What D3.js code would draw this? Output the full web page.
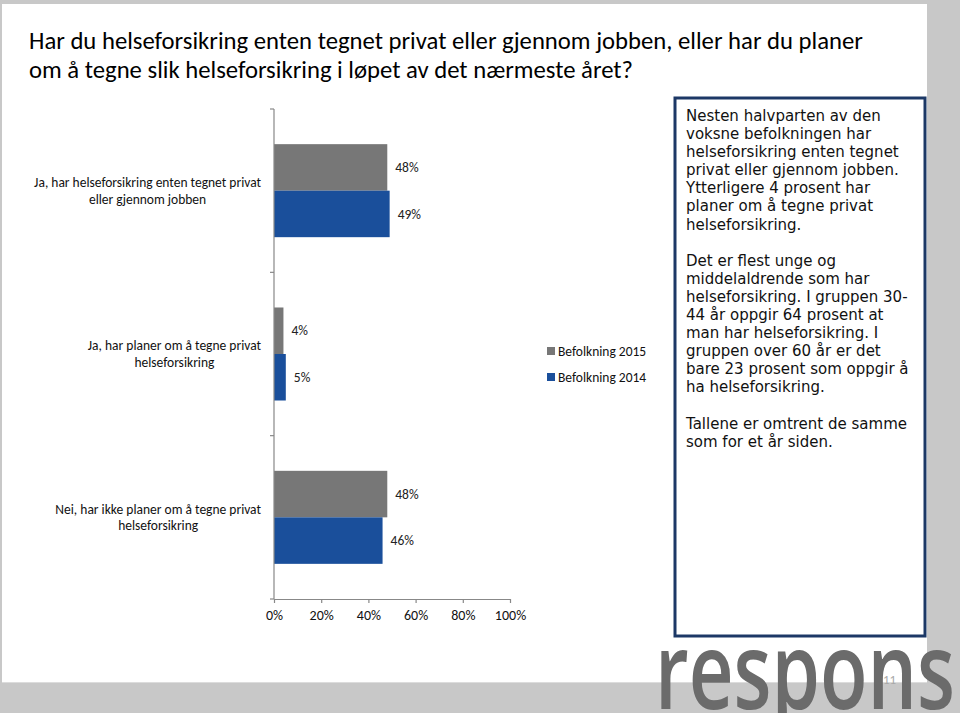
<!DOCTYPE html>
<html><head><meta charset="utf-8">
<script src="https://cdn.jsdelivr.net/npm/d3@7"></script>
<style>
html,body{margin:0;padding:0;background:#c8c8c8;}
svg{display:block;}
</style></head>
<body>
<svg id="c" width="960" height="713"></svg>
<script>
// ---- data ----
const titleLines = ["Har du helseforsikring enten tegnet privat eller gjennom jobben, eller har du planer",
                    "om å tegne slik helseforsikring i løpet av det nærmeste året?"];
const categories = [
  ["Ja, har helseforsikring enten tegnet privat", "eller gjennom jobben"],
  ["Ja, har planer om å tegne privat", "helseforsikring"],
  ["Nei, har ikke planer om å tegne privat", "helseforsikring"]
];
const seriesNames = ["Befolkning 2015", "Befolkning 2014"];
const values2015 = [48, 4, 48];
const values2014 = [49, 5, 46];
const xTicks = [0, 20, 40, 60, 80, 100];
const seriesColors = ["#777777", "#1a4f9b"];
const boxLines = [
  "Nesten halvparten av den","voksne befolkningen har","helseforsikring enten tegnet",
  "privat eller gjennom jobben.","Ytterligere 4 prosent har","planer om å tegne privat",
  "helseforsikring.","",
  "Det er flest unge og","middelaldrende som har","helseforsikring. I gruppen 30-",
  "44 år oppgir 64 prosent at","man har helseforsikring. I","gruppen over 60 år er det",
  "bare 23 prosent som oppgir å","ha helseforsikring.","",
  "Tallene er omtrent de samme","som for et år siden."
];
const seriesValues = [values2015, values2014];

const svg = d3.select("#c");
const CAL = "Carlito, Calibri, Lato, sans-serif";

// background panels
svg.append("rect").attr("x",0).attr("y",0).attr("width",960).attr("height",713).attr("fill","#c8c8c8");
svg.append("rect").attr("x",2).attr("y",4).attr("width",925).attr("height",678).attr("fill","#ffffff");
svg.append("line").attr("x1",2).attr("x2",927).attr("y1",682.5).attr("y2",682.5).attr("stroke","#dcdcdc");

// title
svg.append("g").selectAll("text").data(titleLines).join("text")
  .attr("x",29).attr("y",(d,i)=>49+i*29)
  .attr("font-family",CAL).attr("font-size",24.7).attr("fill","#000")
  .text(d=>d);

// scales
const x = d3.scaleLinear().domain([0,100]).range([274,510]);
const y0 = d3.scaleBand().domain(d3.range(categories.length)).range([109,599]);
const y1 = d3.scaleBand().domain(d3.range(seriesNames.length)).range([0,y0.bandwidth()]).paddingOuter(0.756);

const axisColor = "#888888";
// bars
const groups = svg.append("g").selectAll("g").data(categories).join("g")
  .attr("transform",(d,i)=>`translate(0,${y0(i)})`);
groups.each(function(c,ci){
  const g = d3.select(this);
  const data = seriesValues.map((vals,si)=>({si, v: vals[ci]}));
  g.selectAll("rect").data(data).join("rect")
    .attr("x",x(0)).attr("y",d=>y1(d.si))
    .attr("width",d=>x(d.v)-x(0)).attr("height",y1.bandwidth())
    .attr("fill",d=>seriesColors[d.si]);
  g.selectAll("text.val").data(data).join("text").attr("class","val")
    .attr("x",d=>x(d.v)+8).attr("y",d=>y1(d.si)+y1.bandwidth()/2)
    .attr("dy","0.35em").attr("font-family",CAL).attr("font-size",13.5).attr("fill","#222")
    .text(d=>d.v+"%");
});

// category labels (centered block, right-aligned)
categories.forEach((lines,ci)=>{
  const cy = y0(ci)+y0.bandwidth()/2;
  const g = svg.append("g");
  const t = g.selectAll("text").data(lines).join("text")
    .attr("y",(d,i)=>cy+(i-(lines.length-1)/2)*16.5).attr("dy","0.35em")
    .attr("font-family",CAL).attr("font-size",13.5).attr("fill","#111")
    .text(d=>d);
  let maxW = 0;
  t.each(function(){maxW=Math.max(maxW,this.getComputedTextLength());});
  const right = x(0)-13;
  t.attr("x",right-maxW/2).attr("text-anchor","middle");
});

// y axis
svg.append("line").attr("x1",x(0)).attr("x2",x(0)).attr("y1",y0.range()[0]).attr("y2",y0.range()[1])
  .attr("stroke",axisColor).attr("stroke-width",1.2);
const yTickPos = categories.map((c,i)=>y0(i)).concat([y0.range()[1]]);
svg.append("g").selectAll("line").data(yTickPos).join("line")
  .attr("x1",x(0)-4).attr("x2",x(0)).attr("y1",d=>d).attr("y2",d=>d)
  .attr("stroke",axisColor).attr("stroke-width",1.2);

// x axis
const xAxis = d3.axisBottom(x).tickValues(xTicks).tickFormat(d=>d+"%").tickSizeInner(4).tickSizeOuter(0);
const xg = svg.append("g").attr("transform",`translate(0,${y0.range()[1]})`).call(xAxis);
xg.select(".domain").attr("stroke",axisColor).attr("stroke-width",1.2);
xg.selectAll(".tick line").attr("stroke",axisColor).attr("stroke-width",1.2);
xg.selectAll(".tick text").attr("font-family",CAL).attr("font-size",14).attr("fill","#111").attr("y",11);

// legend
const leg = svg.append("g").attr("transform","translate(547,351)");
seriesNames.forEach((n,i)=>{
  leg.append("rect").attr("x",0).attr("y",i*26-4).attr("width",8).attr("height",8).attr("fill",seriesColors[i]);
  leg.append("text").attr("x",11).attr("y",i*26).attr("dy","0.35em")
    .attr("font-family",CAL).attr("font-size",13.5).attr("fill","#111").text(n);
});

// text box
svg.append("rect").attr("x",675).attr("y",98).attr("width",250).attr("height",538)
  .attr("fill","#fff").attr("stroke","#1c3866").attr("stroke-width",3);
svg.append("g").selectAll("text").data(boxLines).join("text")
  .attr("x",686).attr("y",(d,i)=>115.7+i*18.1).attr("dy","0.35em")
  .attr("font-family","Verdana, 'DejaVu Sans', sans-serif").attr("font-size",15).attr("fill","#111")
  .text(d=>d);

// logo
svg.append("text").attr("x",655).attr("y",709).attr("font-family","'Open Sans', sans-serif")
  .attr("font-size",106).attr("font-weight",600).attr("fill","#6b6b6b")
  .attr("textLength",300).attr("lengthAdjust","spacingAndGlyphs")
  .text("respons");
svg.append("text").attr("x",883).attr("y",684).attr("font-family",CAL).attr("font-size",13)
  .attr("fill","#a8a8a8").text("11");
</script>
</body></html>
